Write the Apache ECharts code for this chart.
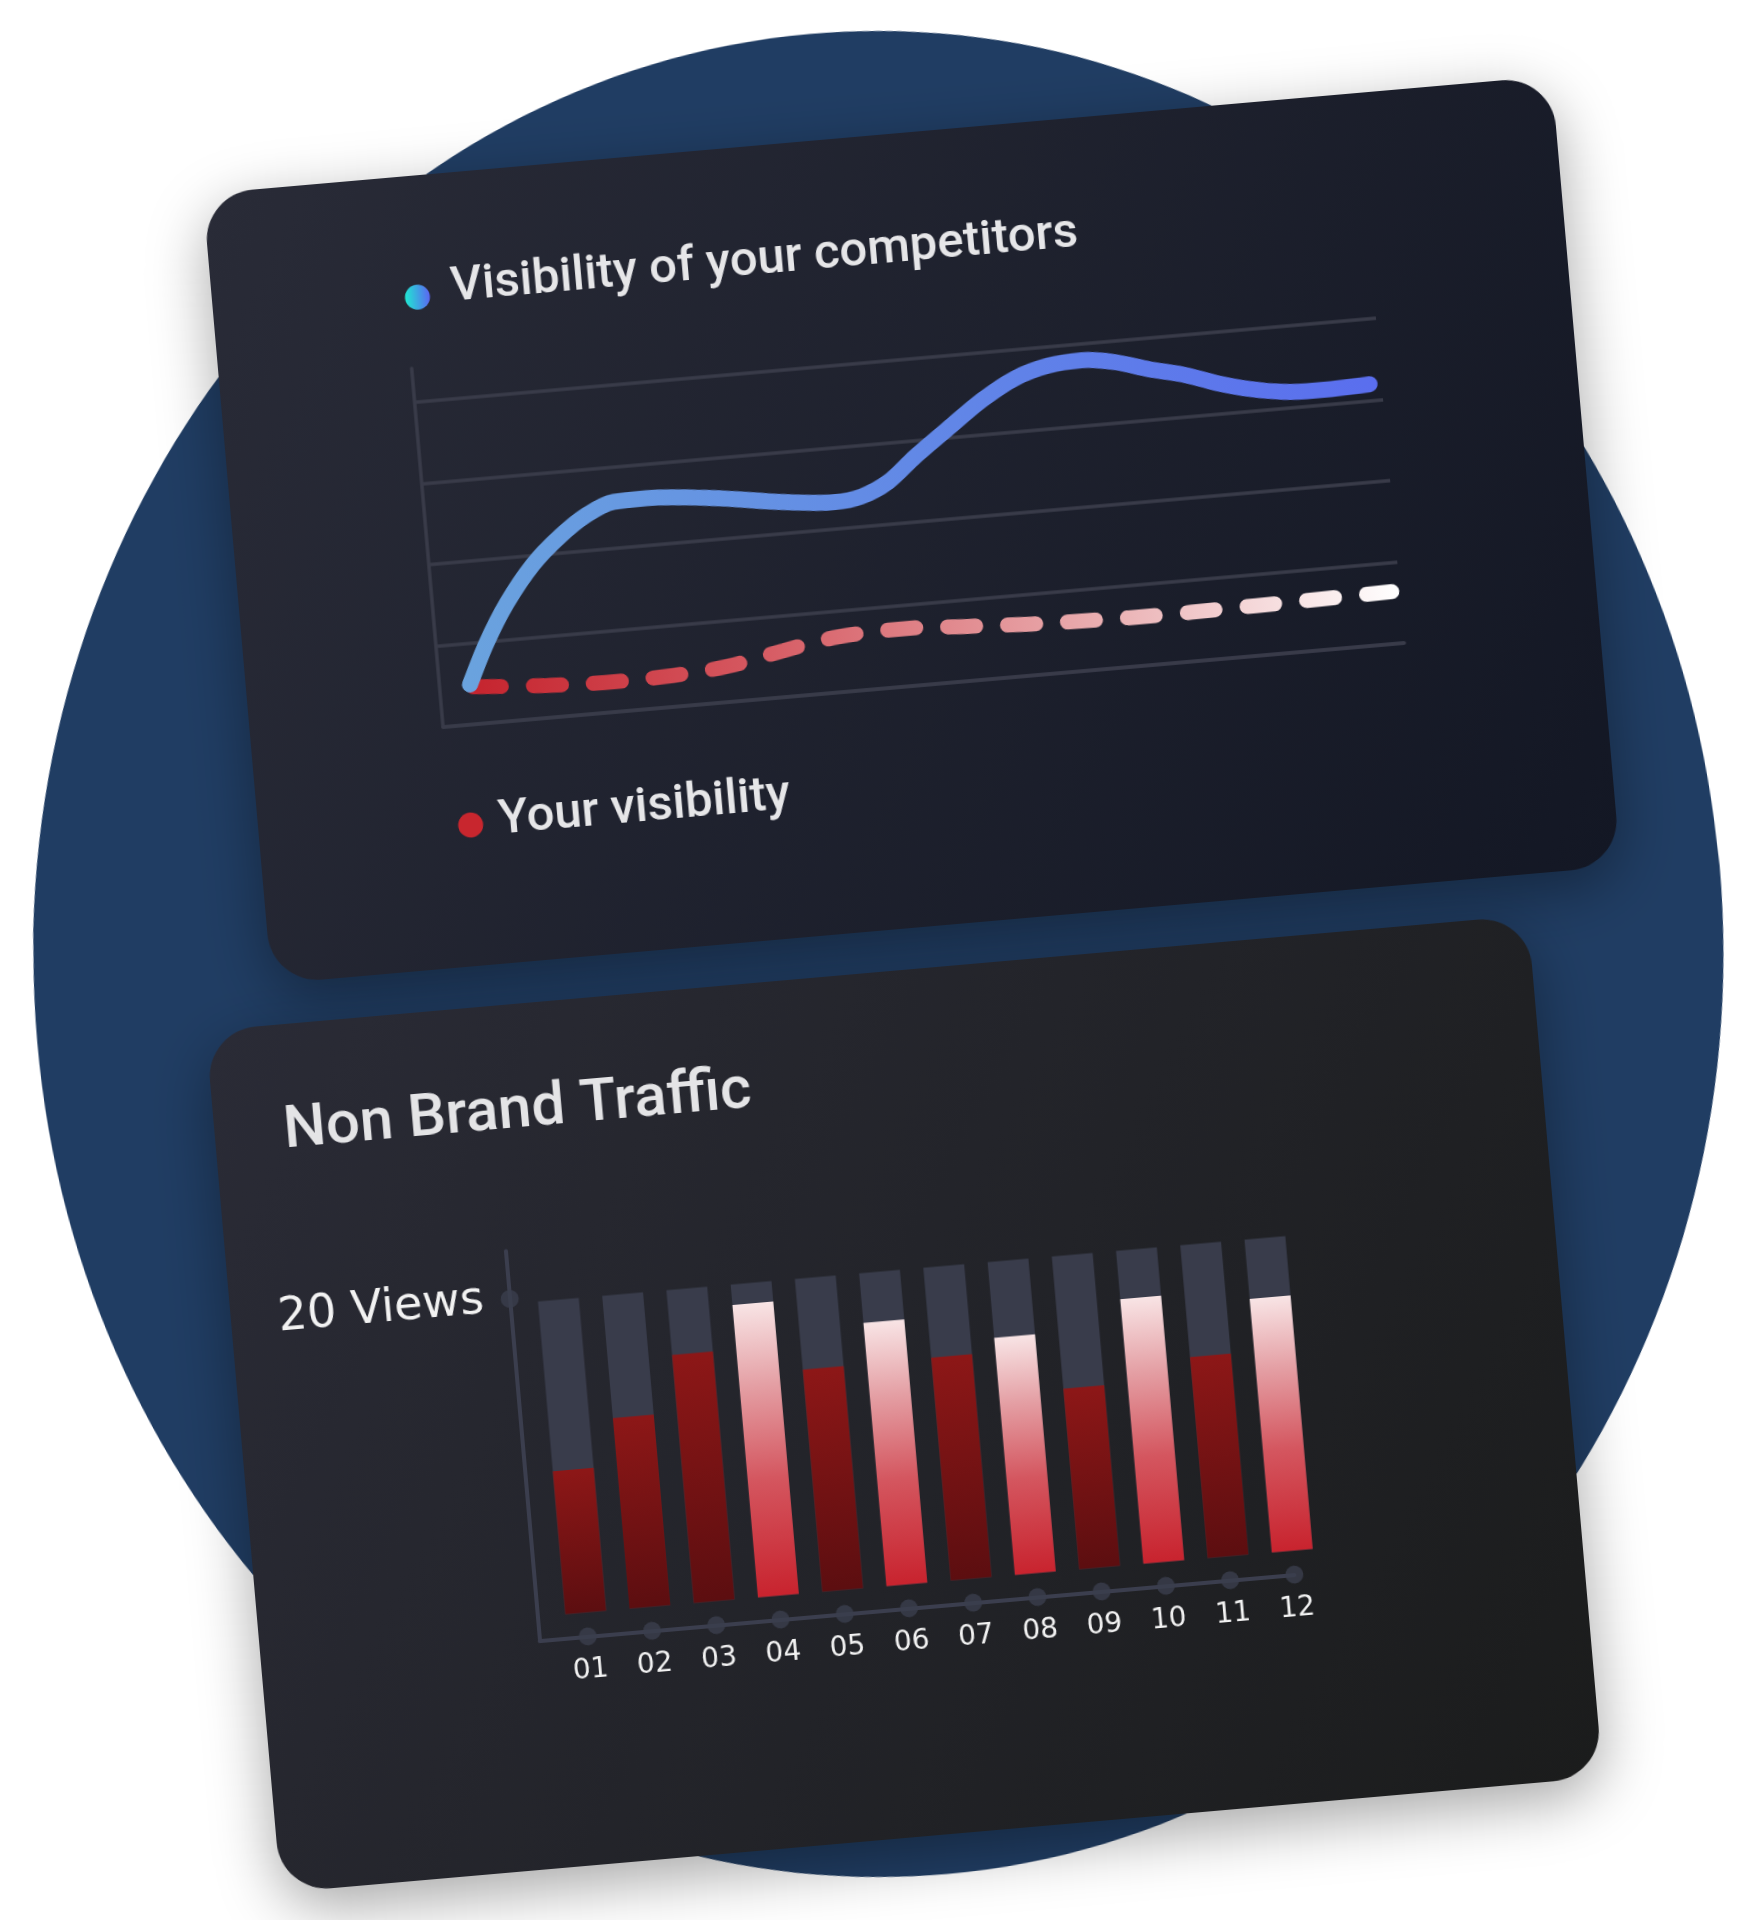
<!DOCTYPE html>
<html>
<head>
<meta charset="utf-8">
<script src="https://cdn.jsdelivr.net/npm/echarts@6/dist/echarts.min.js"></script>
<style>
html,body{margin:0;padding:0;background:#ffffff;overflow:hidden;width:1757px;height:1920px;}
#main{position:absolute;left:0;top:0;width:1757px;height:1920px;transform:rotate(-5deg);transform-origin:878.5px 960px;}
</style>
</head>
<body>
<div id="main"></div>
<script>
// ---------- data ----------
// Line chart (top card): x position along the period, y = visibility level
const competitorsX   = [0.38,0.63,0.92,1.29,1.66,2.01,2.36,2.77,3.60,4.43,5.09,5.43,5.78,6.14,6.58,7.03,7.46,7.89,8.31,8.73,9.13,9.54,9.95,10.36,10.77,11.18,11.85];
const competitorsVis = [0.49,0.98,1.44,1.89,2.21,2.44,2.57,2.58,2.51,2.39,2.33,2.37,2.52,2.80,3.11,3.42,3.65,3.77,3.80,3.74,3.62,3.52,3.38,3.27,3.20,3.18,3.20];
const yoursX   = [0.42, 1.3, 2.2, 3.0, 3.6, 4.3, 5.0, 5.8, 6.6, 7.4, 8.2, 9.0, 9.8, 10.6, 11.9];
const yoursVis = [0.46, 0.40, 0.37, 0.39, 0.44, 0.57, 0.68, 0.71, 0.67, 0.63, 0.61, 0.60, 0.61, 0.62, 0.64];
const legendCompetitors = 'Visibility of your competitors';
const legendYours = 'Your visibility';

// Bar chart (bottom card)
const barTitle = 'Non Brand Traffic';
const months = ['01','02','03','04','05','06','07','08','09','10','11','12'];
const monthPos = [1,2,3,4,5,6,7,8,9,10,11,12];
const traffic = [9.76, 12.55, 15.91, 18.51, 14.40, 16.80, 14.44, 15.28, 11.96, 16.88, 13.16, 16.23];
const highlighted = [0,0,0,1,0,1,0,1,0,1,0,1];
const trackMax = 19.7;
const barBase = 1.4;
const yTickValues = [20];
const yTickUnit = 'Views';

// ---------- chart ----------
const chart = echarts.init(document.getElementById('main'), null, {renderer:'canvas', width:1757, height:1920});
const G = echarts.graphic.LinearGradient;

const hiGrad = new G(0,0,0,1,[{offset:0,color:'#f8e4e5'},{offset:0.28,color:'#e49fa4'},{offset:0.6,color:'#d4565f'},{offset:1,color:'#c8232e'}]);
const loGrad = new G(0,0,0,1,[{offset:0,color:'#8d1717'},{offset:1,color:'#5c0e10'}]);
const trackColor = '#393c4b';
const gridLine = '#393b49';
const barAxis = '#3b3e4e';
const BAR_W = 41;

function barItem(fillFn){
  return function(params, api){
    const x = api.value(0), v = api.value(1);
    const top = api.coord([x, v]);
    const bot = api.coord([x, barBase]);
    return { type:'rect',
      shape:{x: top[0] - BAR_W/2, y: top[1], width: BAR_W, height: bot[1] - top[1]},
      style:{fill: fillFn(api)} };
  };
}

const option = {
  animation: false,
  backgroundColor: 'transparent',
  graphic: { elements: [
    { type:'ellipse', x:879, y:954, rotation:-5*Math.PI/180, z:-10, silent:true,
      shape:{cx:0, cy:0, rx:845, ry:923}, style:{fill:'#203d63'} },
    { type:'rect', z:-9, silent:true,
      shape:{x:272, y:138, width:1354, height:793, r:50},
      style:{fill:new G(0,0,1,1,[{offset:0,color:'#292b37'},{offset:1,color:'#131724'}]),
             shadowBlur:60, shadowColor:'rgba(0,0,0,0.35)', shadowOffsetY:18} },
    { type:'rect', z:-8, silent:true,
      shape:{x:202, y:972, width:1327, height:865, r:50},
      style:{fill:new G(0,0,1,1,[{offset:0,color:'#2a2b36'},{offset:1,color:'#1b1c1c'}]),
             shadowBlur:60, shadowColor:'rgba(0,0,0,0.35)', shadowOffsetY:18} },
    { type:'circle', z:5, silent:true, shape:{cx:477, cy:259.5, r:12.5},
      style:{fill:new G(0,0,1,0,[{offset:0,color:'#1fe8d2'},{offset:1,color:'#5b66f2'}])} },
    { type:'text', z:5, silent:true, x:511, y:254,
      style:{text:legendCompetitors, fontFamily:'Roboto', fontWeight:500, fontSize:49, fill:'#e6e6e8', verticalAlign:'middle', align:'left'} },
    { type:'circle', z:5, silent:true, shape:{cx:484, cy:790, r:12.5}, style:{fill:'#c8262e'} },
    { type:'text', z:5, silent:true, x:512, y:789,
      style:{text:legendYours, fontFamily:'Roboto', fontWeight:500, fontSize:49, fill:'#e6e6e8', verticalAlign:'middle', align:'left'} },
    { type:'text', z:5, silent:true, x:271, y:1080,
      style:{text:barTitle, fontFamily:'Roboto', fontWeight:500, fontSize:60, fill:'#e4e4e6', verticalAlign:'middle', align:'left'} }
  ]},
  grid: [
    { left:465, top:364, width:965, height:326, outerBoundsMode:'none' },
    { left:465, top:330, width:965, height:360, outerBoundsMode:'none' },
    { left:481.6, top:1217.4, width:757.6, height:391.1, outerBoundsMode:'none' }
  ],
  xAxis: [
    { gridIndex:0, type:'value', min:0, max:12,
      axisLine:{show:true, onZero:false, lineStyle:{color:gridLine, width:3.5}},
      axisTick:{show:false}, axisLabel:{show:false}, splitLine:{show:false} },
    { gridIndex:1, type:'value', min:0, max:12, show:false },
    { gridIndex:2, type:'value', min:0.25, max:12,
      axisLine:{show:true, onZero:false, lineStyle:{color:barAxis, width:4}},
      axisTick:{show:false}, splitLine:{show:false},
      axisLabel:{customValues:monthPos, formatter:function(v){return months[Math.round(v)-1];},
                 margin:20, color:'#f2f2f2', fontFamily:'DejaVu Sans', fontSize:28} }
  ],
  yAxis: [
    { gridIndex:0, type:'value', min:0, max:4, interval:1,
      axisLine:{show:false}, axisTick:{show:false}, axisLabel:{show:false},
      splitLine:{show:true, lineStyle:{color:gridLine, width:3.5}} },
    { gridIndex:1, type:'value', min:0, max:4.417,
      axisLine:{show:true, onZero:false, lineStyle:{color:gridLine, width:3.5}},
      axisTick:{show:false}, axisLabel:{show:false}, splitLine:{show:false} },
    { gridIndex:2, type:'value', min:0, max:22.8,
      axisLine:{show:true, onZero:false, lineStyle:{color:barAxis, width:4}},
      axisTick:{show:false}, splitLine:{show:false},
      axisLabel:{customValues:yTickValues, formatter:function(v){return v + ' ' + yTickUnit;},
                 margin:26, color:'#f2f2f2', fontFamily:'DejaVu Sans', fontSize:46} }
  ],
  series: [
    { type:'line', name:legendYours, xAxisIndex:0, yAxisIndex:0, z:3, silent:true,
      data: yoursX.map(function(x,i){return [x, yoursVis[i]];}),
      smooth:0.4, symbol:'none',
      lineStyle:{width:15, type:[28,32], cap:'round',
        color:new G(0,0,1,0,[{offset:0,color:'#c5232d'},{offset:0.3,color:'#d5575f'},{offset:0.65,color:'#e8a7aa'},{offset:1,color:'#ffffff'}])} },
    { type:'line', name:legendCompetitors, xAxisIndex:0, yAxisIndex:0, z:4, silent:true,
      data: competitorsX.map(function(x,i){return [x, competitorsVis[i]];}),
      smooth:0.3, symbol:'none',
      lineStyle:{width:16, cap:'round',
        color:new G(0,0,1,0,[{offset:0,color:'#6aa3de'},{offset:1,color:'#5a6eee'}])} },
    { type:'custom', name:'track', xAxisIndex:2, yAxisIndex:2, z:2, silent:true,
      data: monthPos.map(function(p){return [p, trackMax];}),
      renderItem: barItem(function(){return trackColor;}) },
    { type:'custom', name:barTitle, xAxisIndex:2, yAxisIndex:2, z:3, silent:true,
      data: traffic.map(function(v,i){return [monthPos[i], v, highlighted[i]];}),
      renderItem: barItem(function(api){return api.value(2) ? hiGrad : loGrad;}) },
    { type:'scatter', xAxisIndex:2, yAxisIndex:2, z:5, clip:false, silent:true,
      data: monthPos.map(function(p){return [p, 0];}),
      symbolSize:18, itemStyle:{color:barAxis} },
    { type:'scatter', xAxisIndex:2, yAxisIndex:2, z:5, clip:false, silent:true,
      data: yTickValues.map(function(v){return [0.25, v];}),
      symbolSize:18, itemStyle:{color:barAxis} }
  ]
};
chart.setOption(option);
</script>
</body>
</html>
